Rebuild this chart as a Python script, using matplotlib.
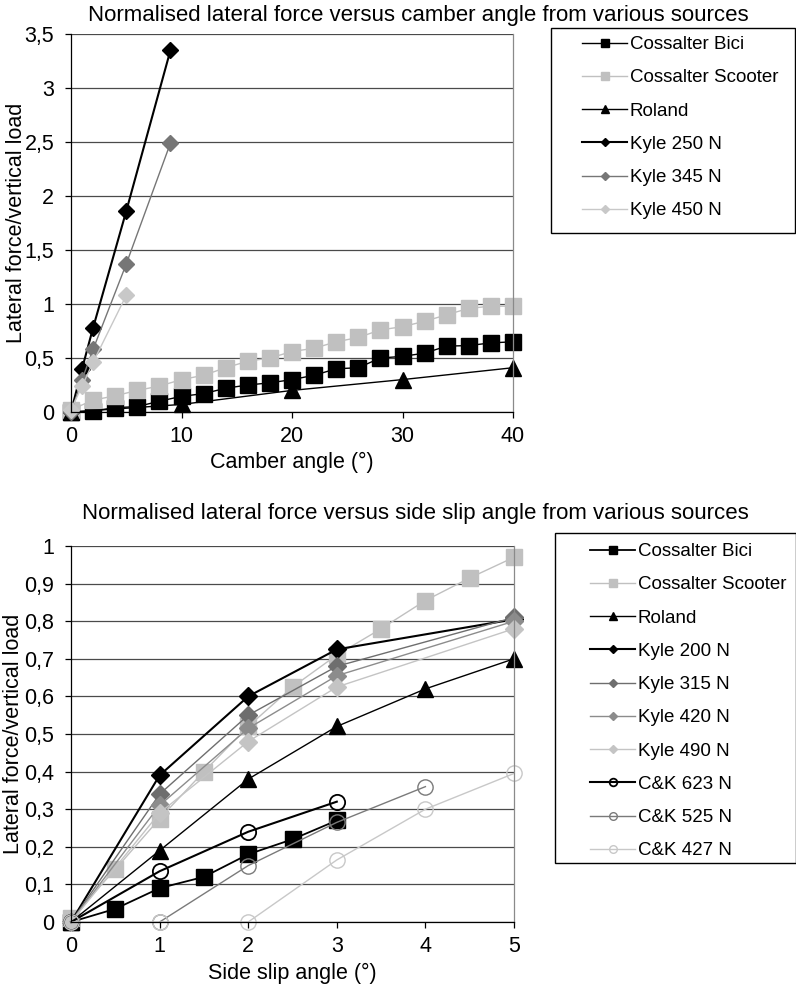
"""
Normalised lateral force of tyres: camber angle (top) and side slip angle (bottom).
Two Excel-style panels with an external framed legend each.
Output: out.png
"""

import matplotlib.pyplot as plt
from matplotlib.patches import Rectangle
from matplotlib.ticker import FuncFormatter

plt.rcParams['font.family'] = ['Liberation Sans', 'DejaVu Sans']

# ── Top panel: camber angle data ─────────────────────────────────────────────
cam_x = [0, 2, 4, 6, 8, 10, 12, 14, 16, 18, 20,
         22, 24, 26, 28, 30, 32, 34, 36, 38, 40]
cam_bici = [0.0, 0.01, 0.04, 0.05, 0.10, 0.145, 0.17, 0.22, 0.25, 0.27, 0.30,
            0.34, 0.40, 0.41, 0.50, 0.515, 0.545, 0.61, 0.615, 0.64, 0.65]
cam_scooter = [0.02, 0.11, 0.15, 0.20, 0.24, 0.30, 0.34, 0.41, 0.47, 0.50, 0.56,
               0.59, 0.65, 0.69, 0.76, 0.79, 0.84, 0.90, 0.96, 0.98, 0.98]
cam_roland_x = [0, 10, 20, 30, 40]
cam_roland = [0.0, 0.07, 0.20, 0.30, 0.41]
cam_kyle_x = [0, 1, 2, 5, 9]
cam_kyle250 = [0.0, 0.40, 0.78, 1.86, 3.35]
cam_kyle345 = [0.0, 0.30, 0.58, 1.37, 2.49]
cam_kyle450_x = [0, 1, 2, 5]
cam_kyle450 = [0.02, 0.24, 0.46, 1.08]

# ── Bottom panel: side slip angle data ───────────────────────────────────────
ss_bici_x = [0, 0.5, 1, 1.5, 2, 2.5, 3]
ss_bici = [0.0, 0.035, 0.09, 0.12, 0.18, 0.22, 0.27]
ss_scooter_x = [0, 0.5, 1, 1.5, 2, 2.5, 3, 3.5, 4, 4.5, 5]
ss_scooter = [0.01, 0.14, 0.275, 0.40, 0.52, 0.625, 0.71, 0.78, 0.855, 0.915, 0.97]
ss_roland_x = [0, 1, 2, 3, 4, 5]
ss_roland = [0.0, 0.19, 0.38, 0.52, 0.62, 0.70]
ss_kyle_x = [0, 1, 2, 3, 5]
ss_kyle200 = [0.0, 0.39, 0.60, 0.725, 0.805]
ss_kyle315 = [0.0, 0.34, 0.55, 0.68, 0.81]
ss_kyle420 = [0.0, 0.31, 0.515, 0.655, 0.80]
ss_kyle490 = [0.0, 0.29, 0.48, 0.625, 0.78]
ss_ck623_x = [0, 1, 2, 3]
ss_ck623 = [0.0, 0.135, 0.24, 0.32]
ss_ck525_x = [1, 2, 3, 4]
ss_ck525 = [0.0, 0.15, 0.265, 0.36]
ss_ck427_x = [0, 1, 2, 3, 4, 5]
ss_ck427 = [0.0, 0.0, 0.0, 0.165, 0.30, 0.395]

W, H = 796, 990
fig = plt.figure(figsize=(W / 100, H / 100), dpi=100)


def px_axes(l, t, r, b):
    return fig.add_axes([l / W, 1 - b / H, (r - l) / W, (b - t) / H])


def comma(v, _pos):
    return f'{round(v, 2):g}'.replace('.', ',')


def style(ax):
    ax.spines['left'].set_color('black')
    ax.spines['bottom'].set_color('black')
    ax.spines['right'].set_color('#8a8a8a')
    ax.spines['top'].set_visible(False)
    for s in ax.spines.values():
        s.set_linewidth(0.9)
    ax.yaxis.grid(True, color='#4a4a4a', lw=0.9)
    ax.set_axisbelow(True)
    ax.tick_params(direction='out', length=4, width=0.9, labelsize=15.5,
                   top=False, right=False)
    ax.tick_params(axis='x', pad=6)
    ax.tick_params(axis='y', pad=8)
    ax.yaxis.set_major_formatter(FuncFormatter(comma))


def legend_box(ax, handles, x_handle, y_top, box):
    l, t, r, b = box
    fig.add_artist(Rectangle((l / W, 1 - b / H), (r - l) / W, (b - t) / H,
                             transform=fig.transFigure, fill=False,
                             ec='black', lw=1.0))
    ax.legend(handles=handles, loc='upper left', frameon=False,
              bbox_to_anchor=(x_handle / W, 1 - y_top / H),
              bbox_transform=fig.transFigure, borderpad=0, borderaxespad=0,
              fontsize=13.5, handlelength=2.4, handletextpad=0.15,
              labelspacing=0.86, markerscale=0.5)


# ── Top panel ────────────────────────────────────────────────────────────────
ax1 = px_axes(71, 34, 513, 412)
h = []
h += ax1.plot(cam_x, cam_bici, 's-', color='black', ms=11, lw=1.0,
              label='Cossalter Bici', clip_on=False)
h += ax1.plot(cam_x, cam_scooter, 's-', color='#c0c0c0', ms=11.5, lw=1.0,
              label='Cossalter Scooter', clip_on=False)
h += ax1.plot(cam_roland_x, cam_roland, '^-', color='black', ms=11, lw=1.0,
              label='Roland', clip_on=False)
h += ax1.plot(cam_kyle_x, cam_kyle250, 'D-', color='black', ms=8.5, lw=1.5,
              label='Kyle 250 N', clip_on=False)
h += ax1.plot(cam_kyle_x, cam_kyle345, 'D-', color='#767676', ms=8.5, lw=1.0,
              label='Kyle 345 N', clip_on=False)
h += ax1.plot(cam_kyle450_x, cam_kyle450, 'D-', color='#c8c8c8', ms=8.5, lw=1.0,
              label='Kyle 450 N', clip_on=False)
style(ax1)
ax1.set_xlim(0, 40)
ax1.set_ylim(0, 3.5)
ax1.set_xticks([0, 10, 20, 30, 40])
ax1.set_yticks([0, 0.5, 1, 1.5, 2, 2.5, 3, 3.5])
ax1.set_xlabel('Camber angle (°)', fontsize=15.5)
ax1.set_ylabel('Lateral force/vertical load', fontsize=15.5)
ax1.xaxis.set_label_coords(0.5, -0.105)
ax1.yaxis.set_label_coords(-0.1, 0.5)
fig.text(418 / W, 1 - 16 / H, 'Normalised lateral force versus camber angle from various sources',
         ha='center', va='center', fontsize=16)
legend_box(ax1, h, 582, 36, (551, 28, 795, 233))

# ── Bottom panel ─────────────────────────────────────────────────────────────
ax2 = px_axes(71, 546, 514, 922)
h = []
h += ax2.plot(ss_bici_x, ss_bici, 's-', color='black', ms=12, lw=1.3,
              label='Cossalter Bici', clip_on=False)
h += ax2.plot(ss_scooter_x, ss_scooter, 's-', color='#c0c0c0', ms=12, lw=1.0,
              label='Cossalter Scooter', clip_on=False)
h += ax2.plot(ss_roland_x, ss_roland, '^-', color='black', ms=12, lw=1.0,
              label='Roland', clip_on=False)
h += ax2.plot(ss_kyle_x, ss_kyle200, 'D-', color='black', ms=9, lw=1.5,
              label='Kyle 200 N', clip_on=False)
h += ax2.plot(ss_kyle_x, ss_kyle315, 'D-', color='#6e6e6e', ms=9, lw=1.0,
              label='Kyle 315 N', clip_on=False)
h += ax2.plot(ss_kyle_x, ss_kyle420, 'D-', color='#8c8c8c', ms=9, lw=1.0,
              label='Kyle 420 N', clip_on=False)
h += ax2.plot(ss_kyle_x, ss_kyle490, 'D-', color='#c4c4c4', ms=9, lw=1.0,
              label='Kyle 490 N', clip_on=False)
h += ax2.plot(ss_ck623_x, ss_ck623, 'o-', color='black', mfc='none', mew=1.3,
              ms=11, lw=1.5, label='C&K 623 N', clip_on=False)
h += ax2.plot(ss_ck525_x, ss_ck525, 'o-', color='#7a7a7a', mfc='none', mew=1.0,
              ms=11, lw=1.0, label='C&K 525 N', clip_on=False)
h += ax2.plot(ss_ck427_x, ss_ck427, 'o-', color='#c8c8c8', mfc='none', mew=1.0,
              ms=11, lw=1.0, label='C&K 427 N', clip_on=False)
style(ax2)
ax2.set_xlim(0, 5)
ax2.set_ylim(0, 1)
ax2.set_xticks([0, 1, 2, 3, 4, 5])
ax2.set_yticks([i / 10 for i in range(11)])
ax2.set_xlabel('Side slip angle (°)', fontsize=15.5)
ax2.set_ylabel('Lateral force/vertical load', fontsize=15.5)
ax2.xaxis.set_label_coords(0.5, -0.11)
ax2.yaxis.set_label_coords(-0.105, 0.5)
fig.text(415 / W, 1 - 514 / H, 'Normalised lateral force versus side slip angle from various sources',
         ha='center', va='center', fontsize=16)
legend_box(ax2, h, 590, 543, (555, 533, 796, 863))

fig.savefig('out.png', dpi=100)
